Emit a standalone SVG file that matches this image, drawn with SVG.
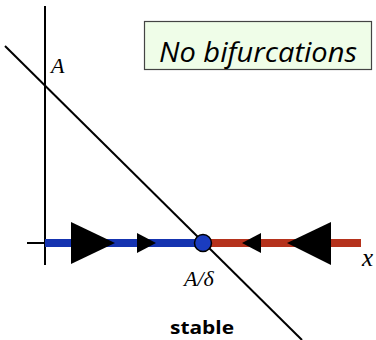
<svg xmlns="http://www.w3.org/2000/svg" width="376" height="340" viewBox="0 0 376 340">
<style>
.ax{stroke:#000;stroke-width:2;fill:none}
.arr{fill:#000}
.math{font-family:"Liberation Serif",serif;font-style:italic;fill:#000}
</style>
<rect width="376" height="340" fill="#fff"/>
<g id="connectors">
<line class="ax" x1="45" y1="6" x2="45" y2="265"/>
<line class="ax" x1="27" y1="243" x2="46" y2="243"/>
<line x1="45" y1="243" x2="203" y2="243" stroke="#1533b0" stroke-width="8"/>
<line x1="203" y1="243" x2="361" y2="243" stroke="#b5321c" stroke-width="8"/>
<line class="ax" x1="5" y1="46" x2="302" y2="340"/>
<polygon class="arr" points="71,222 115,243 71,264"/>
<polygon class="arr" points="137,233 156,243 137,253"/>
<polygon class="arr" points="261,233 242,243 261,253"/>
<polygon class="arr" points="331,222 287,243 331,265"/>
</g>
<g id="fixed-point">
<circle cx="203" cy="243" r="8.5" fill="#1a3cc0" stroke="#000" stroke-width="1.5"/>
</g>
<g id="labels">
<text class="math" x="51" y="73" font-size="22">A</text>
<text class="math" x="184" y="286" font-size="22">A/δ</text>
<text class="math" x="362" y="266" font-size="25">x</text>
<text x="202" y="334" font-family="'Open Sans','Liberation Sans',sans-serif" font-weight="bold" font-size="17" text-anchor="middle" textLength="64" lengthAdjust="spacingAndGlyphs">stable</text>
</g>
<g id="title">
<rect x="144.5" y="21.5" width="227" height="48" fill="#effde8" stroke="#444" stroke-width="1.2"/>
<text x="159" y="62" font-family="'Open Sans','Liberation Sans',sans-serif" font-style="italic" font-size="28" textLength="198" lengthAdjust="spacingAndGlyphs">No bifurcations</text>
</g>
</svg>
